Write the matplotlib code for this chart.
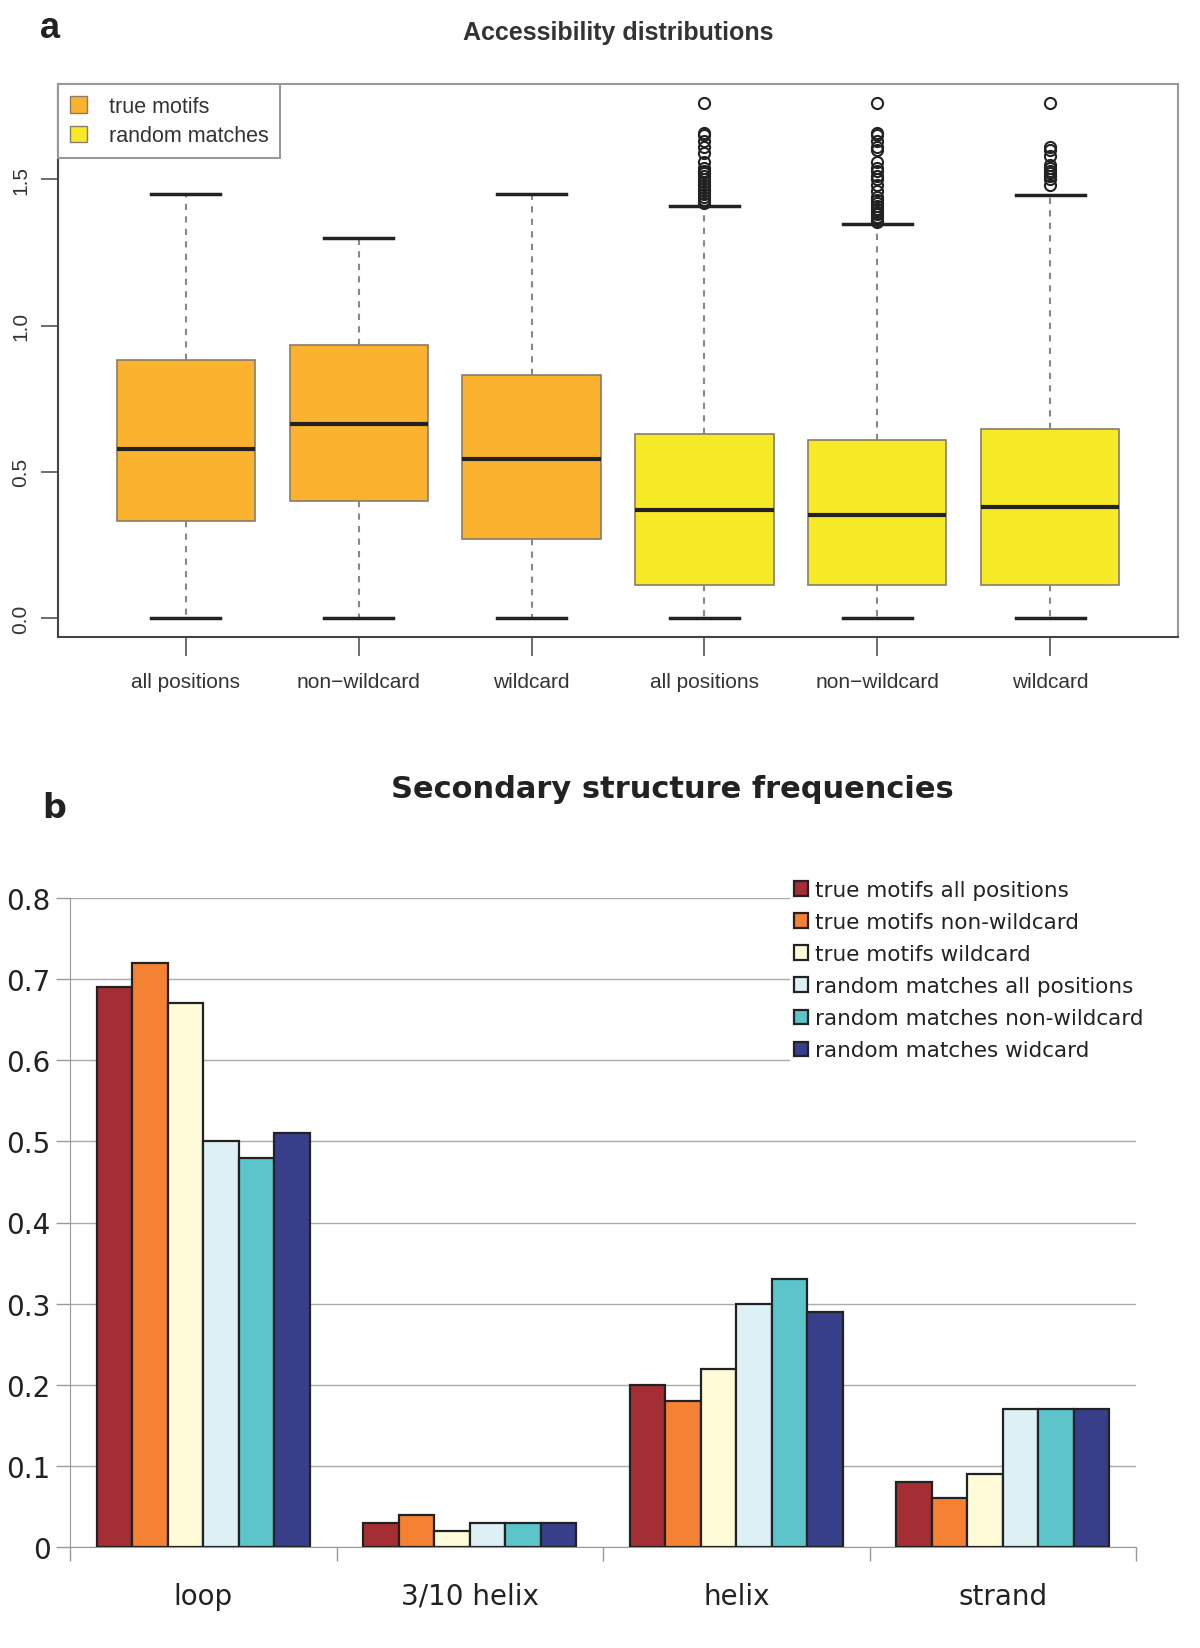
import matplotlib.pyplot as plt
from matplotlib.patches import Patch
import numpy as np

# ---- panel a: accessibility boxplots ----
box_labels = ['all positions', 'non\u2212wildcard', 'wildcard',
              'all positions', 'non\u2212wildcard', 'wildcard']
box_groups = ['true motifs', 'true motifs', 'true motifs',
              'random matches', 'random matches', 'random matches']
q1 = [0.331, 0.399, 0.270, 0.112, 0.112, 0.112]
med = [0.579, 0.662, 0.543, 0.370, 0.353, 0.381]
q3 = [0.881, 0.932, 0.831, 0.629, 0.608, 0.647]
whislo = [0.0, 0.0, 0.0, 0.0, 0.0, 0.0]
whishi = [1.45, 1.30, 1.45, 1.409, 1.347, 1.447]
fliers = [
    [],
    [],
    [],
    [1.76, 1.66, 1.65, 1.63, 1.61, 1.59, 1.56, 1.54, 1.53, 1.52, 1.51, 1.50,
     1.49, 1.48, 1.47, 1.46, 1.45, 1.44, 1.43, 1.42],
    [1.76, 1.66, 1.65, 1.63, 1.61, 1.60, 1.56, 1.54, 1.53, 1.51, 1.50, 1.48,
     1.46, 1.44, 1.43, 1.42, 1.41, 1.40, 1.39, 1.38, 1.37, 1.36, 1.355],
    [1.76, 1.61, 1.60, 1.58, 1.55, 1.54, 1.53, 1.52, 1.51, 1.50, 1.48],
]
group_colors = {'true motifs': '#FBB22F', 'random matches': '#F6E925'}

# ---- panel b: secondary structure frequencies ----
structures = ['loop', '3/10 helix', 'helix', 'strand']
series_names = ['true motifs all positions', 'true motifs non-wildcard',
                'true motifs wildcard', 'random matches all positions',
                'random matches non-wildcard', 'random matches widcard']
freq_true_all = [0.69, 0.03, 0.20, 0.08]
freq_true_nonwild = [0.72, 0.04, 0.18, 0.06]
freq_true_wild = [0.67, 0.02, 0.22, 0.09]
freq_rand_all = [0.50, 0.03, 0.30, 0.17]
freq_rand_nonwild = [0.48, 0.03, 0.33, 0.17]
freq_rand_wild = [0.51, 0.03, 0.29, 0.17]
series_values = [freq_true_all, freq_true_nonwild, freq_true_wild,
                 freq_rand_all, freq_rand_nonwild, freq_rand_wild]
series_colors = ['#A52D34', '#F58233', '#FFFAD8', '#DDF0F5', '#5BC5CB', '#373F8A']

W, H = 1200, 1649
fig = plt.figure(figsize=(W / 100, H / 100), dpi=100)

# panel a
ax1 = fig.add_axes([58 / W, 1 - 638 / H, 1120 / W, 553 / H])
stats = []
for i in range(len(box_labels)):
    stats.append({'med': med[i], 'q1': q1[i], 'q3': q3[i],
                  'whislo': whislo[i], 'whishi': whishi[i],
                  'fliers': fliers[i], 'label': box_labels[i]})
pos = np.arange(1, len(box_labels) + 1)
bp = ax1.bxp(stats, positions=pos, widths=0.8, patch_artist=True,
             boxprops=dict(edgecolor='#8a7d66', linewidth=1.2),
             medianprops=dict(color='#222222', linewidth=3),
             whiskerprops=dict(color='#888888', linewidth=1.5, linestyle=(0, (3, 3))),
             capprops=dict(color='#222222', linewidth=2.5),
             capwidths=0.4,
             flierprops=dict(marker='o', markerfacecolor='none',
                             markeredgecolor='#222222', markersize=8,
                             markeredgewidth=1.5))
for patch, g in zip(bp['boxes'], box_groups):
    patch.set_facecolor(group_colors[g])

ax1.set_xlim(0.26, 6.74)
ax1.set_ylim(-0.065, 1.826)
ax1.set_xticks(pos)
ax1.set_xticklabels(box_labels, fontsize=15, color='#333333',
                    family='Liberation Sans')
ax1.set_yticks([0.0, 0.5, 1.0, 1.5])
ax1.set_yticklabels(['0.0', '0.5', '1.0', '1.5'], rotation=90, va='center',
                    fontsize=15, color='#333333', family='Liberation Sans')
ax1.tick_params(axis='x', length=14, width=1.2, color='#555555', pad=11)
ax1.tick_params(axis='y', length=12, width=1.2, color='#555555', pad=8)
for side in ['top', 'right']:
    ax1.spines[side].set_color('#999999')
    ax1.spines[side].set_linewidth(1.5)
for side in ['left', 'bottom']:
    ax1.spines[side].set_color('#444444')
    ax1.spines[side].set_linewidth(1.5)

leg1 = ax1.legend(handles=[Patch(facecolor=group_colors[g], edgecolor='#8a7d66', label=g)
                           for g in ['true motifs', 'random matches']],
                  loc='upper left', bbox_to_anchor=(0, 1), borderaxespad=0,
                  prop={'family': 'Liberation Sans', 'size': 15.5},
                  fancybox=False, edgecolor='#999999', framealpha=1,
                  handlelength=0.8, handleheight=0.8, handletextpad=1.0,
                  labelspacing=0.4, borderpad=0.55)
leg1.get_frame().set_linewidth(1.5)
for t in leg1.get_texts():
    t.set_color('#333333')

fig.text(618 / W, 1 - 33 / H, 'Accessibility distributions', ha='center',
         va='center', fontsize=18, fontweight='bold', color='#333333',
         family='Liberation Sans')
fig.text(40 / W, 1 - 29 / H, 'a', ha='left', va='center', fontsize=26,
         fontweight='bold', color='#222222', family='Liberation Sans')

# panel b
ax2 = fig.add_axes([70 / W, 1 - 1548 / H, 1066 / W, 649 / H])
n = len(series_names)
bw = 0.8 / n
x = np.arange(len(structures)) + 0.5
for k in range(n):
    ax2.bar(x - 0.4 + bw * (k + 0.5), series_values[k], width=bw,
            color=series_colors[k], edgecolor='#222222', linewidth=1.6,
            label=series_names[k], zorder=3)
ax2.set_xlim(0, len(structures))
ax2.set_ylim(0, 0.8)
ax2.set_yticks(np.arange(0, 0.81, 0.1))
ax2.set_yticklabels(['0', '0.1', '0.2', '0.3', '0.4', '0.5', '0.6', '0.7', '0.8'],
                    fontsize=20, color='#222222')
ax2.yaxis.grid(True, color='#aaaaaa', linewidth=1, zorder=0)
ax2.set_axisbelow(True)
ax2.set_xticks(np.arange(len(structures) + 1))
ax2.set_xticklabels([])
ax2.set_xticks(x, minor=True)
ax2.set_xticklabels(structures, minor=True, fontsize=20, color='#222222')
ax2.tick_params(axis='x', which='major', length=10, width=1, color='#999999')
ax2.tick_params(axis='x', which='minor', length=0, pad=25)
ax2.tick_params(axis='y', length=10, width=1, color='#999999', pad=4)
ax2.spines['top'].set_visible(False)
ax2.spines['right'].set_visible(False)
ax2.spines['left'].set_color('#999999')
ax2.spines['bottom'].set_color('#999999')

leg2 = fig.legend(loc='upper left', bbox_to_anchor=(779 / W, 1 - 866 / H),
                  fontsize=15.5, frameon=True, framealpha=1, edgecolor='none',
                  fancybox=False, handlelength=0.65, handleheight=0.65,
                  handletextpad=0.3, labelspacing=0.56, borderpad=0.2)
for t in leg2.get_texts():
    t.set_color('#222222')

fig.text(672 / W, 1 - 789 / H, 'Secondary structure frequencies', ha='center',
         va='center', fontsize=22, fontweight='bold', color='#222222')
fig.text(42 / W, 1 - 808 / H, 'b', ha='left', va='center', fontsize=24,
         fontweight='bold', color='#222222')

fig.savefig('out.png', dpi=100)
